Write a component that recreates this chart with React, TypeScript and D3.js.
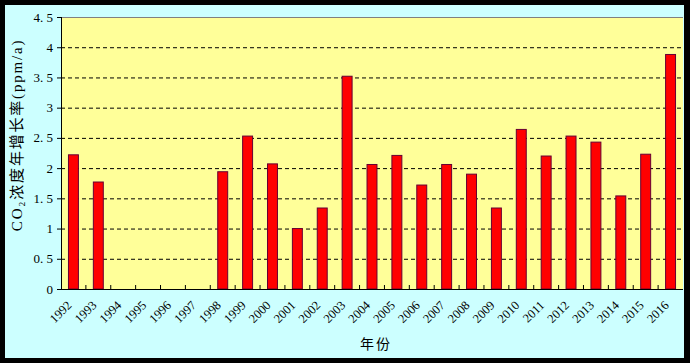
import React, { useEffect, useRef } from 'react';
import * as d3 from 'd3';

const years = [
  '1992', '1993', '1994', '1995', '1996', '1997', '1998', '1999', '2000',
  '2001', '2002', '2003', '2004', '2005', '2006', '2007', '2008', '2009',
  '2010', '2011', '2012', '2013', '2014', '2015', '2016'
];
const growthRates: (number | null)[] = [
  2.22, 1.77, null, null, null, null, 1.94, 2.53, 2.07,
  1.0, 1.34, 3.52, 2.06, 2.21, 1.72, 2.06, 1.9, 1.34,
  2.64, 2.2, 2.53, 2.43, 1.54, 2.23, 3.88
];
const yTicks = [0, 0.5, 1, 1.5, 2, 2.5, 3, 3.5, 4, 4.5];
const yLabel = 'CO₂浓度年增长率(ppm/a)';
const xLabel = '年份';

const App = () => {
  const ref = useRef<SVGSVGElement>(null);

  useEffect(() => {
    document.body.style.margin = '0';
    drawChart();
  }, []);

  const drawChart = () => {
    const width = 690;
    const height = 363;
    const svg = d3.select(ref.current);
    svg.selectAll('*').remove();

    const font = "'Liberation Serif', 'Noto Sans CJK SC', serif";
    const plot = { left: 61, right: 683, top: 17, bottom: 289 };

    // outer frame
    svg.append('rect').attr('width', width).attr('height', height).attr('fill', '#000');
    svg
      .append('rect')
      .attr('x', 5)
      .attr('y', 5)
      .attr('width', 679)
      .attr('height', 353)
      .attr('fill', '#CCFFFF');

    svg
      .append('rect')
      .attr('x', plot.left)
      .attr('y', plot.top)
      .attr('width', plot.right - plot.left)
      .attr('height', plot.bottom - plot.top)
      .attr('fill', '#FFFF99');

    const xScale = d3
      .scaleBand()
      .domain(years)
      .range([plot.left, plot.right])
      .paddingInner(0.6)
      .paddingOuter(0.3);
    const yScale = d3
      .scaleLinear()
      .domain([0, 4.5])
      .range([plot.bottom, plot.top]);

    // gridlines
    svg
      .append('g')
      .selectAll('line')
      .data(yTicks.filter(t => t > 0 && t < 4.5))
      .join('line')
      .attr('x1', plot.left)
      .attr('x2', plot.right)
      .attr('y1', d => yScale(d) + 0.5)
      .attr('y2', d => yScale(d) + 0.5)
      .attr('stroke', '#000')
      .attr('stroke-width', 1)
      .attr('stroke-dasharray', '4,3');

    svg
      .append('line')
      .attr('x1', plot.left)
      .attr('x2', plot.right)
      .attr('y1', plot.top + 0.5)
      .attr('y2', plot.top + 0.5)
      .attr('stroke', '#808080');

    // bars
    const barData = years
      .map((y, i) => ({ year: y, value: growthRates[i] }))
      .filter(d => d.value !== null) as { year: string; value: number }[];

    svg
      .append('g')
      .selectAll('rect')
      .data(barData)
      .join('rect')
      .attr('x', d => xScale(d.year)!)
      .attr('y', d => yScale(d.value))
      .attr('width', xScale.bandwidth())
      .attr('height', d => plot.bottom - yScale(d.value))
      .attr('fill', '#FF0000')
      .attr('stroke', '#660033')
      .attr('stroke-width', 1);

    // y axis
    svg
      .append('line')
      .attr('x1', plot.left + 0.5)
      .attr('x2', plot.left + 0.5)
      .attr('y1', plot.top)
      .attr('y2', plot.bottom)
      .attr('stroke', '#000');

    const yAxis = svg.append('g');
    yAxis
      .selectAll('line')
      .data(yTicks)
      .join('line')
      .attr('x1', plot.left - 4)
      .attr('x2', plot.left)
      .attr('y1', d => yScale(d) + 0.5)
      .attr('y2', d => yScale(d) + 0.5)
      .attr('stroke', '#000');
    yAxis
      .selectAll('text')
      .data(yTicks)
      .join('text')
      .attr('x', 53)
      .attr('y', d => yScale(d) + 4.5)
      .attr('text-anchor', 'end')
      .attr('font-family', font)
      .attr('font-size', 13)
      .attr('fill', '#000')
      .text(d => (Number.isInteger(d) ? String(d) : d.toFixed(1).replace('.', '. ')));

    // x axis
    svg
      .append('line')
      .attr('x1', plot.left)
      .attr('x2', plot.right)
      .attr('y1', plot.bottom + 0.5)
      .attr('y2', plot.bottom + 0.5)
      .attr('stroke', '#000');

    const step = xScale.step();
    svg
      .append('g')
      .selectAll('line')
      .data(d3.range(1, years.length))
      .join('line')
      .attr('x1', i => plot.left + i * step)
      .attr('x2', i => plot.left + i * step)
      .attr('y1', plot.bottom)
      .attr('y2', plot.bottom - 4)
      .attr('stroke', '#000');

    svg
      .append('g')
      .selectAll('text')
      .data(years)
      .join('text')
      .attr('transform', d => {
        const cx = xScale(d)! + xScale.bandwidth() / 2;
        return `translate(${cx - 1},${plot.bottom + 17}) rotate(-45)`;
      })
      .attr('text-anchor', 'end')
      .attr('font-family', font)
      .attr('font-size', 12.5)
      .attr('fill', '#000')
      .text(d => d);

    // titles
    svg
      .append('text')
      .attr('transform', `translate(22,135) rotate(-90)`)
      .attr('text-anchor', 'middle')
      .attr('font-family', font)
      .attr('font-size', 15)
      .attr('letter-spacing', 1.8)
      .attr('fill', '#000')
      .text(yLabel);

    svg
      .append('text')
      .attr('x', 376)
      .attr('y', 349)
      .attr('text-anchor', 'middle')
      .attr('font-family', "'Noto Sans CJK SC', sans-serif")
      .attr('font-size', 14)
      .attr('letter-spacing', 2)
      .attr('fill', '#000')
      .text(xLabel);
  };

  return (
    <svg
      ref={ref}
      width={690}
      height={363}
      style={{ position: 'absolute', left: 0, top: 0, display: 'block' }}
    />
  );
};

export default App;
